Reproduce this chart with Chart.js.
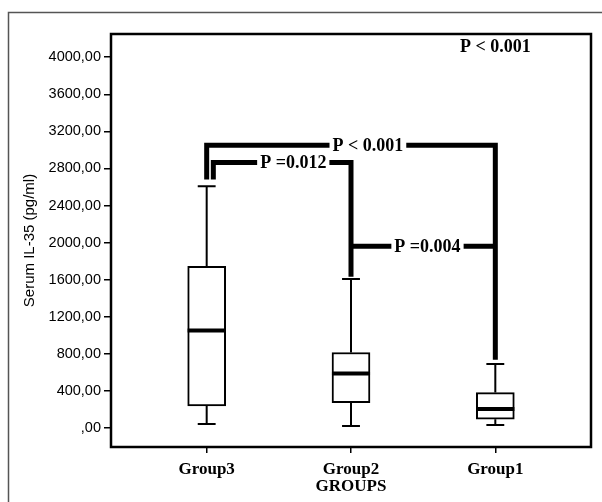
<!DOCTYPE html>
<html>
<head>
<meta charset="utf-8">
<script src="https://cdn.jsdelivr.net/npm/chart.js@4"></script>
<style>
  body { margin: 0; background: #fff; }
  canvas { display: block; }
</style>
</head>
<body>
<canvas id="chart" width="602" height="502"></canvas>
<script>
// box plot data (pg/ml)
var groups = ['Group3', 'Group2', 'Group1'];
var positions = [1, 2, 3];
var whiskerLow = [43, 22, 32];
var q1 = [238, 274, 94];
var median = [1052, 587, 205];
var q3 = [1744, 814, 382];
var whiskerHigh = [2609, 1608, 689];
var yTicks = [0, 400, 800, 1200, 1600, 2000, 2400, 2800, 3200, 3600, 4000];

// significance brackets: [x, y] corners
var bracketAll = [[1, 2680], [1, 3049], [3, 3049], [3, 735]];
var bracket32 = [[1.046, 2680], [1.046, 2865], [2, 2865], [2, 1632]];
var bracket21 = [[2, 1960], [3, 1960]];
var pLabels = [
    { text: 'P < 0.001', x: 2.117, y: 3049 },
    { text: 'P =0.012', x: 1.6, y: 2865 },
    { text: 'P =0.004', x: 2.53, y: 1960 }
];
var overallP = { text: 'P < 0.001', x: 3.0, y: 4110 };

var capHalf = 0.062;
var boxHalf = 0.132;
var gap = { x: null, y: null };

var whiskerData = [];
var medianData = [];
positions.forEach(function (p, i) {
    whiskerData.push({ x: p, y: q3[i] }, { x: p, y: whiskerHigh[i] }, gap);
    whiskerData.push({ x: p - capHalf, y: whiskerHigh[i] }, { x: p + capHalf, y: whiskerHigh[i] }, gap);
    whiskerData.push({ x: p, y: q1[i] }, { x: p, y: whiskerLow[i] }, gap);
    whiskerData.push({ x: p - capHalf, y: whiskerLow[i] }, { x: p + capHalf, y: whiskerLow[i] }, gap);
    medianData.push({ x: p - boxHalf, y: median[i] }, { x: p + boxHalf, y: median[i] }, gap);
});

function toPoints(arr) {
    return arr.map(function (c) { return { x: c[0], y: c[1] }; });
}
var bracketData = toPoints(bracketAll).concat([gap], toPoints(bracket32), [gap], toPoints(bracket21));

var serif = 'bold 18px "Liberation Serif", "Times New Roman", serif';

var framePlugin = {
    id: 'frame',
    afterDatasetsDraw: function (chart) {
        var c = chart.ctx, x = chart.scales.x, y = chart.scales.y;
        c.save();
        c.font = serif;
        c.textAlign = 'center';
        c.textBaseline = 'middle';
        pLabels.forEach(function (l) {
            var px = x.getPixelForValue(l.x), py = y.getPixelForValue(l.y);
            var w = c.measureText(l.text).width;
            c.fillStyle = '#fff';
            c.fillRect(px - w / 2 - 3, py - 8, w + 6, 16);
            c.fillStyle = '#000';
            c.fillText(l.text, px, py + 1);
        });
        c.fillText(overallP.text, x.getPixelForValue(overallP.x), y.getPixelForValue(overallP.y));
        c.restore();
    },
    afterDraw: function (chart) {
        var c = chart.ctx, a = chart.chartArea;
        c.save();
        c.strokeStyle = '#000';
        c.lineWidth = 2.5;
        c.strokeRect(a.left, a.top, a.right - a.left, a.bottom - a.top);
        c.strokeStyle = '#555';
        c.lineWidth = 1.5;
        c.beginPath();
        c.moveTo(602, 12.5);
        c.lineTo(8.5, 12.5);
        c.lineTo(8.5, 502);
        c.stroke();
        c.restore();
    }
};

var ctx = document.getElementById('chart');
new Chart(ctx, {
    type: 'bar',
    data: {
        datasets: [{
            type: 'line',
            data: bracketData,
            borderColor: '#000',
            borderWidth: 5,
            borderJoinStyle: 'miter',
            borderCapStyle: 'butt',
            pointRadius: 0,
            spanGaps: false,
            order: 0
        }, {
            type: 'line',
            data: medianData,
            borderColor: '#000',
            borderWidth: 4,
            pointRadius: 0,
            spanGaps: false,
            order: 1
        }, {
            type: 'line',
            data: whiskerData,
            borderColor: '#000',
            borderWidth: 2,
            pointRadius: 0,
            spanGaps: false,
            order: 2
        }, {
            type: 'bar',
            data: positions.map(function (p, i) { return { x: p, y: [q1[i], q3[i]] }; }),
            backgroundColor: '#fff',
            borderColor: '#000',
            borderWidth: 2,
            borderSkipped: false,
            barThickness: 38,
            grouped: false,
            order: 3
        }]
    },
    options: {
        responsive: false,
        animation: false,
        events: [],
        layout: { padding: { top: 34, right: 11, left: 0, bottom: 0 } },
        plugins: {
            legend: { display: false },
            tooltip: { enabled: false }
        },
        scales: {
            x: {
                type: 'linear',
                offset: false,
                min: 0.337,
                max: 3.663,
                afterFit: function (s) { s.height = 55; },
                afterBuildTicks: function (s) {
                    s.ticks = positions.map(function (p) { return { value: p }; });
                },
                grid: { offset: false, drawOnChartArea: false, drawTicks: true, tickLength: 6, color: '#000', lineWidth: 1.5 },
                border: { display: false },
                ticks: {
                    padding: 6,
                    color: '#000',
                    font: { family: '"Liberation Serif", "Times New Roman", serif', size: 17, weight: 'bold' },
                    callback: function (v) { return groups[positions.indexOf(v)]; }
                },
                title: {
                    display: true,
                    text: 'GROUPS',
                    color: '#000',
                    font: { family: '"Liberation Serif", "Times New Roman", serif', size: 17, weight: 'bold' },
                    padding: { top: 0, bottom: 5 }
                }
            },
            y: {
                min: -205,
                max: 4250,
                afterFit: function (s) { s.width = 111; },
                afterBuildTicks: function (s) {
                    s.ticks = yTicks.map(function (v) { return { value: v }; });
                },
                grid: { drawOnChartArea: false, drawTicks: true, tickLength: 7, color: '#000', lineWidth: 1.5 },
                border: { display: false },
                ticks: {
                    padding: 3,
                    color: '#000',
                    font: { family: '"Liberation Sans", Arial, sans-serif', size: 14.5 },
                    callback: function (v) { return v === 0 ? ',00' : v.toFixed(2).replace('.', ','); }
                },
                title: {
                    display: true,
                    text: 'Serum IL-35 (pg/ml)',
                    color: '#000',
                    font: { family: '"Liberation Sans", Arial, sans-serif', size: 15 },
                    padding: { top: 21, bottom: 0 }
                }
            }
        }
    },
    plugins: [framePlugin]
});
</script>
</body>
</html>
